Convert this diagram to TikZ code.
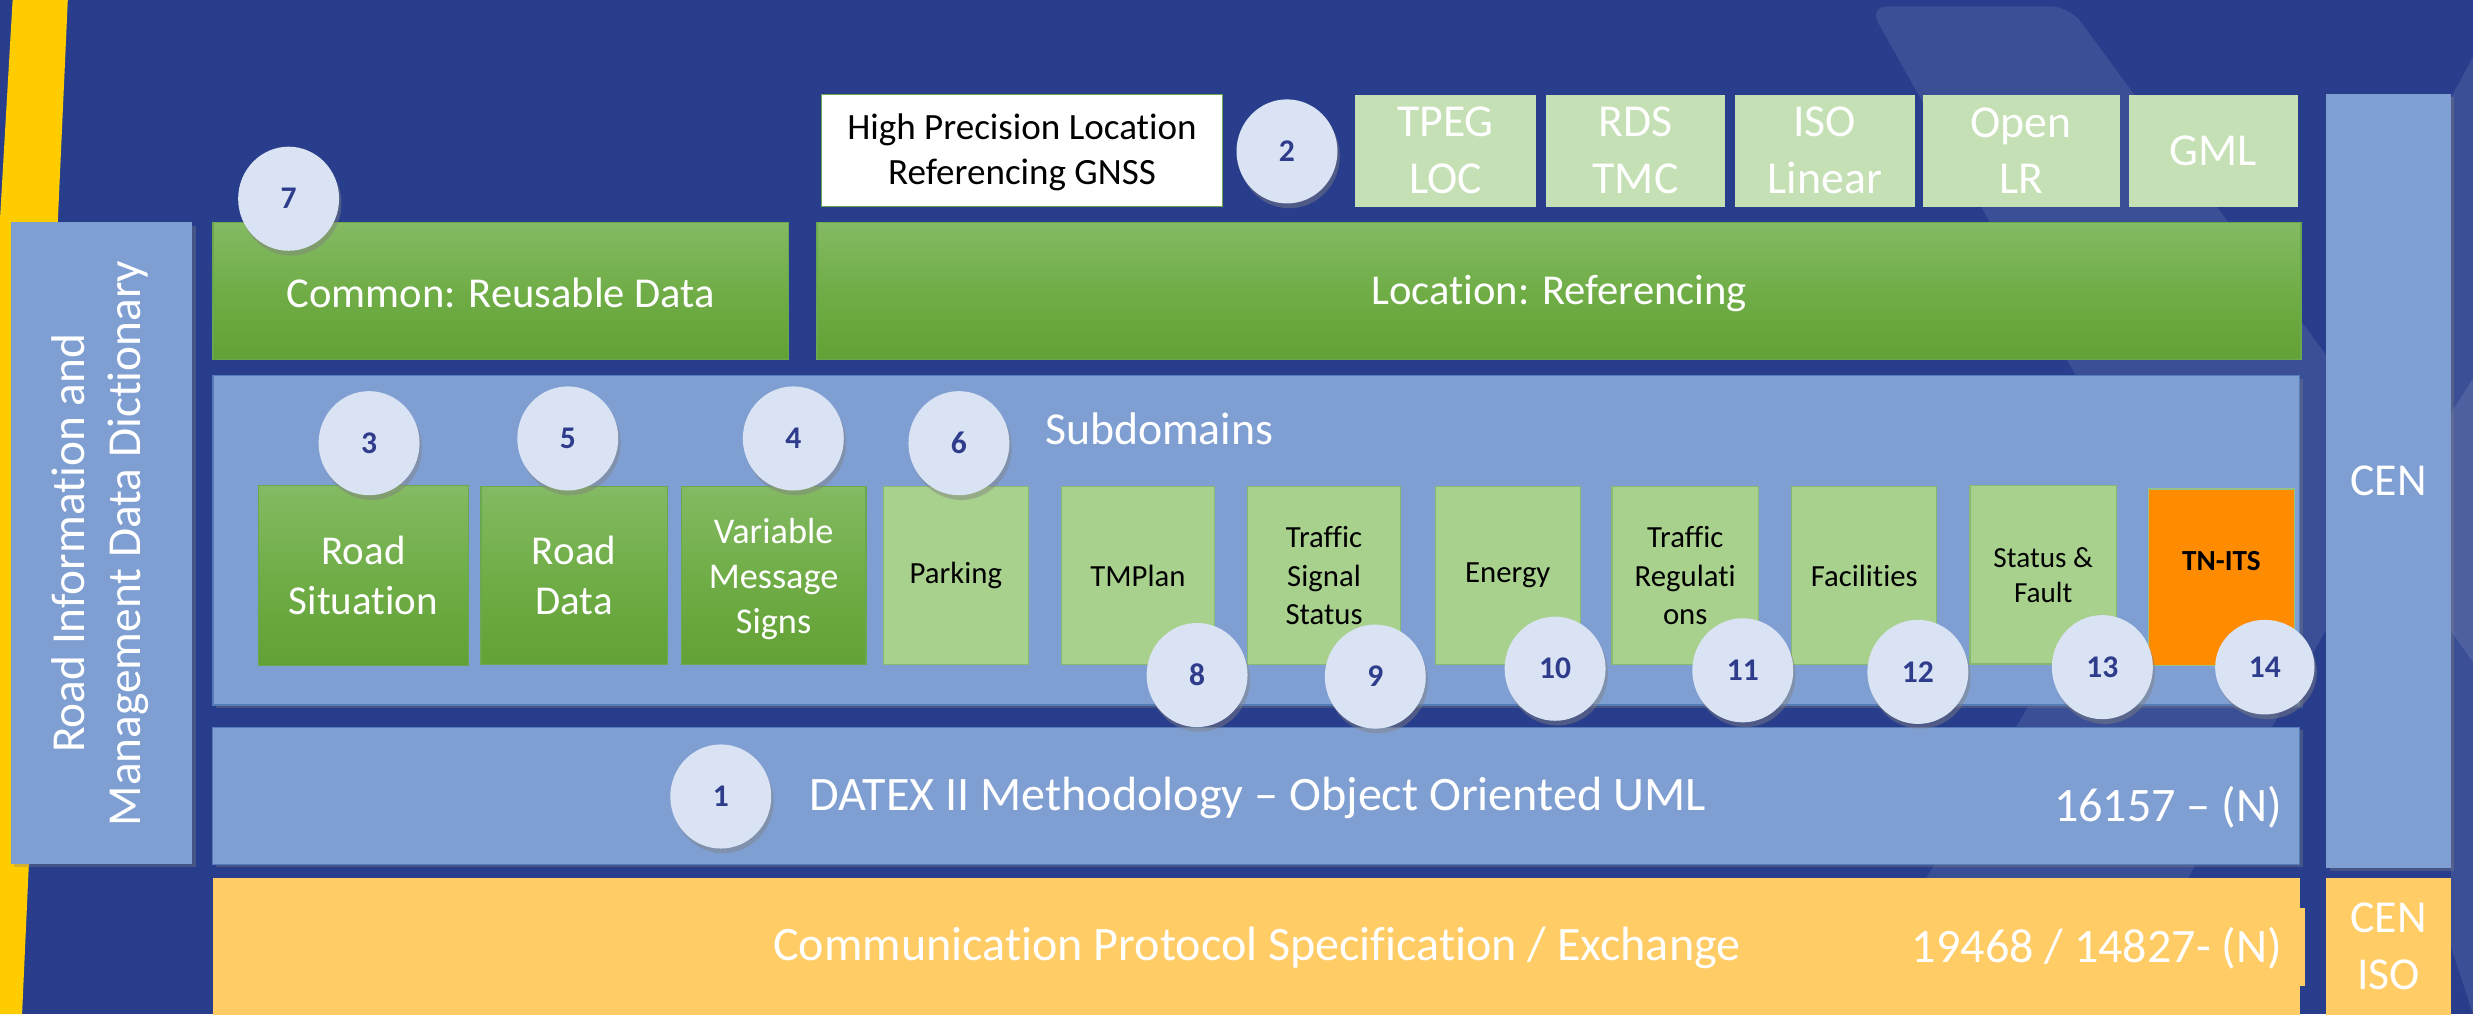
\documentclass[tikz,border=0pt]{standalone}
\usepackage{fontspec}
\setmainfont{Carlito}[Ligatures=CommonOff]
\usetikzlibrary{shadows,shapes.geometric}
\definecolor{bg}{RGB}{40,62,140}
\definecolor{ystripe}{RGB}{255,204,0}
\definecolor{lblue}{RGB}{127,159,211}
\definecolor{lbline}{RGB}{84,124,184}
\definecolor{gtop}{RGB}{132,186,99}
\definecolor{gmid}{RGB}{112,173,71}
\definecolor{gbot}{RGB}{98,161,53}
\definecolor{gline}{RGB}{106,168,79}
\definecolor{lgreen}{RGB}{169,209,142}
\definecolor{pgreen}{RGB}{197,224,180}
\definecolor{circ}{RGB}{218,227,243}
\definecolor{numc}{RGB}{47,60,140}
\definecolor{orng}{RGB}{255,140,0}
\definecolor{ybox}{RGB}{255,204,102}
\newcommand\myfs[2]{\fontsize{#1}{#2}\selectfont}
\tikzset{
  bluebox/.style={fill=lblue, inner sep=0pt, outer sep=0pt,
    drop shadow={shadow xshift=2pt, shadow yshift=-2pt, opacity=0.35}},
  greenbox/.style={top color=gtop, bottom color=gbot, middle color=gmid, draw=gline, line width=0.8pt, inner sep=0pt, outer sep=0pt},
  lgbox/.style={fill=lgreen, draw=gline!80, line width=0.8pt, inner sep=0pt, outer sep=0pt},
  pgbox/.style={fill=pgreen, inner sep=0pt, outer sep=0pt, text=white, align=center, font=\myfs{29}{36}},
  yellowbox/.style={fill=ybox, inner sep=0pt, outer sep=0pt},
  num/.style={ellipse, minimum width=64pt, minimum height=66pt, inner sep=0pt, fill=circ, text=numc,
    font=\bfseries\myfs{20}{22},
    drop shadow={shadow xshift=1.5pt, shadow yshift=-3pt, opacity=0.45}},
  wtxt/.style={text=white, align=center, inner sep=0pt},
  btxt/.style={text=black, align=center, inner sep=0pt},
}
\begin{document}
\begin{tikzpicture}[x=1pt,y=-1pt]
\useasboundingbox (0,0) rectangle (1568,643);
\fill[bg] (0,0) rectangle (1568,643);
% yellow stripe
\fill[ystripe] (8,0) -- (43,0) -- (14,643) -- (-29,643) -- cycle;
% watermark
\fill[white, opacity=0.09, rounded corners=12pt] (1185,4) -- (1312,4) -- (1530,300) -- (1330,660) -- (1160,660) -- (1362,320) -- cycle;
\fill[white, opacity=0.09] (1554,62) -- (1568,36) -- (1568,643) -- (1554,600) -- cycle;
\fill[white, opacity=0.10] (1554,262) -- (1568,240) -- (1568,420) -- (1554,400) -- cycle;

% left dictionary box
\node[bluebox, minimum width=115pt, minimum height=407pt] (dict) at (64.5,344.5) {};
\node[wtxt, rotate=90, font=\myfs{30}{36}] (dicttxt) at (63.5,344.5) {Road Information and\\Management Data Dictionary};

% top green bands
\node[greenbox, minimum width=365pt, minimum height=87pt] (common) at (317.5,184.5) {};
\node[wtxt, font=\myfs{27}{32}] (commontxt) at (317.5,186) {Common: Reusable Data};
\node[greenbox, minimum width=941pt, minimum height=87pt] (loc) at (988.5,184.5) {};
\node[wtxt, font=\myfs{27}{32}] (loctxt) at (988.5,186) {Location: Referencing};

% location referencing boxes
\node[fill=white, draw=gline, line width=0.8pt, minimum width=254pt, minimum height=71pt, inner sep=0pt] (hp) at (648,95.5) {};
\node[btxt, font=\myfs{23.5}{28.5}] (hptxt) at (648,96.5) {High Precision Location\\Referencing GNSS};
\node[pgbox, minimum width=115pt, minimum height=71pt] (tpeg) at (916.5,95.5) {TPEG\\LOC};
\node[pgbox, minimum width=114pt, minimum height=71pt] (rds) at (1037,95.5) {RDS\\TMC};
\node[pgbox, minimum width=114pt, minimum height=71pt] (iso) at (1157,95.5) {ISO\\Linear};
\node[pgbox, minimum width=125pt, minimum height=71pt] (olr) at (1281.5,95.5) {Open\\LR};
\node[pgbox, minimum width=107pt, minimum height=71pt] (gml) at (1403.5,95.5) {GML};

% CEN boxes
\node[bluebox, minimum width=79pt, minimum height=491pt] (cen) at (1514.5,305) {};
\node[wtxt, font=\myfs{29}{36}] (centxt) at (cen.center) {CEN};
\node[yellowbox, minimum width=79pt, minimum height=90pt] (ceniso) at (1514.5,602) {};
\node[wtxt, font=\myfs{29}{36}] (cenisotxt) at (1514.5,600) {CEN\\ISO};

% subdomains
\node[bluebox, draw=lbline, line width=1pt, minimum width=1323pt, minimum height=209pt] (sub) at (796.5,342.5) {};
\node[wtxt, font=\myfs{29}{34}] (subtxt) at (735,272) {Subdomains};

\node[greenbox, minimum width=133pt, minimum height=114pt] (rs) at (230.5,365) {};
\node[wtxt, font=\myfs{26}{31.7}] (rstxt) at (rs.center) {Road\\Situation};
\node[greenbox, minimum width=118pt, minimum height=113pt] (rd) at (364,365) {};
\node[wtxt, font=\myfs{26}{31.7}] (rdtxt) at (rd.center) {Road\\Data};
\node[greenbox, minimum width=117pt, minimum height=113pt] (vms) at (490.5,365) {};
\node[wtxt, font=\myfs{23}{28.5}] (vmstxt) at (490.5,367) {Variable\\Message\\Signs};

\node[lgbox, minimum width=92pt, minimum height=113pt] (park) at (606,365) {};
\node[btxt, font=\myfs{19.5}{24}] (parktxt) at (park.center) {Parking};
\node[lgbox, minimum width=97pt, minimum height=113pt] (tmp) at (721.5,365) {};
\node[btxt, font=\myfs{19.5}{24}] (tmptxt) at (tmp.center) {TMPlan};
\node[lgbox, minimum width=97pt, minimum height=113pt] (tss) at (839.5,365) {};
\node[btxt, font=\myfs{19.5}{24.3}] (tsstxt) at (tss.center) {Traffic\\Signal\\Status};
\node[lgbox, minimum width=92pt, minimum height=113pt] (energy) at (956,365) {};
\node[btxt, font=\myfs{19.5}{24}] (energytxt) at (energy.center) {Energy};
\node[lgbox, minimum width=93pt, minimum height=113pt] (treg) at (1068.5,365) {};
\node[btxt, font=\myfs{19.5}{24.3}] (tregtxt) at (treg.center) {Traffic\\Regulati\\ons};
\node[lgbox, minimum width=92pt, minimum height=113pt] (fac) at (1182,365) {};
\node[btxt, font=\myfs{19.5}{24}] (factxt) at (fac.center) {Facilities};
\node[lgbox, minimum width=93pt, minimum height=113pt] (sf) at (1295.5,364.5) {};
\node[btxt, font=\myfs{18.5}{22}] (sftxt) at (sf.center) {Status \&\\Fault};
\node[fill=orng, draw=gline!70, line width=0.8pt, minimum width=93pt, minimum height=112pt, inner sep=0pt] (tn) at (1408.5,366) {};
\node[btxt, font=\bfseries\myfs{18.5}{22}] (tntxt) at (1408.5,356) {TN-ITS};

% DATEX
\node[bluebox, draw=lbline, line width=0.6pt, minimum width=1323pt, minimum height=87pt] (datex) at (796.5,504.5) {};
\node[wtxt, font=\myfs{30.5}{34}] (datextxt) at (797.5,506) {DATEX II Methodology – Object Oriented UML};
\node[wtxt, font=\myfs{30.5}{34}, anchor=east] (datexnum) at (1447,512) {16157 – (N)};

% Communication
\node[yellowbox, minimum width=1323pt, minimum height=90pt] (comm) at (796.5,602) {};
\fill[ybox] (1458,576) rectangle (1461.5,625);
\node[wtxt, font=\myfs{30.5}{34}] (commtxt) at (797,601) {Communication Protocol Specification / Exchange};
\node[wtxt, font=\myfs{30.5}{34}, anchor=east] (commnum) at (1447,601) {19468 / 14827- (N)};

% numbered circles
\node[num] (n7) at (183,126) {7};
\node[num] (n2) at (816,96) {2};
\node[num] (n3) at (234,281) {3};
\node[num] (n5) at (360,278) {5};
\node[num] (n4) at (503,278) {4};
\node[num] (n6) at (608,281) {6};
\node[num] (n8) at (759,428) {8};
\node[num] (n9) at (872,429) {9};
\node[num] (n10) at (986,424) {10};
\node[num] (n11) at (1105,425) {11};
\node[num] (n12) at (1216,426) {12};
\node[num] (n13) at (1333,423) {13};
\node[num, minimum width=63pt, minimum height=60pt] (n14) at (1436,423) {14};
\node[num] (n1) at (457,505) {1};
\end{tikzpicture}
\end{document}
